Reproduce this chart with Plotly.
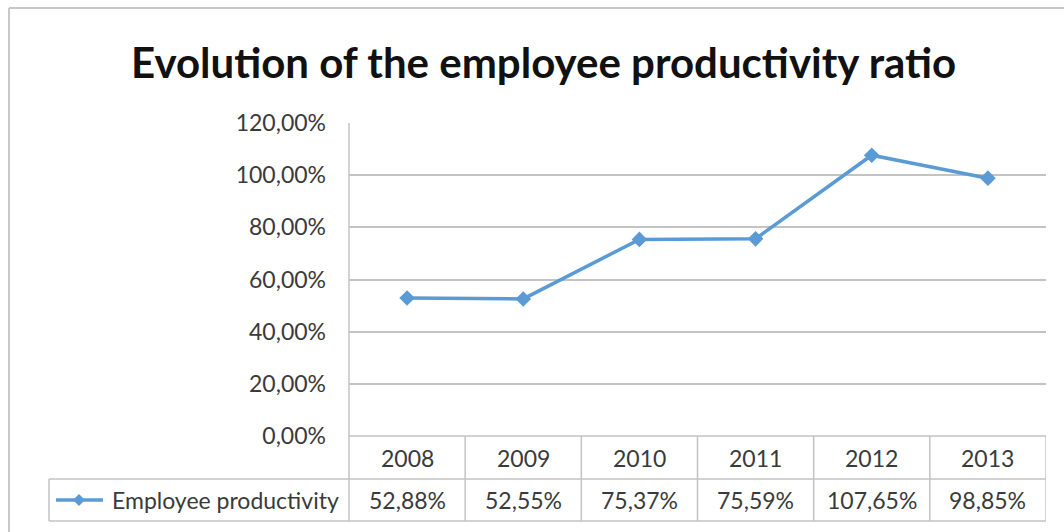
import plotly.graph_objects as go

W, H = 1064, 532

# Chart data
years = ["2008", "2009", "2010", "2011", "2012", "2013"]
productivity_pct = [52.88, 52.55, 75.37, 75.59, 107.65, 98.85]
y_ticks_pct = [0, 20, 40, 60, 80, 100, 120]
series_name = "Employee productivity"
title_text = "Evolution of the employee productivity ratio"

LINE_BLUE = "#5B9BD5"
GRID = "#C3C3C3"
TEXT = "#3A3A3A"
FONT = "Lato"
TABLE_SIZE = 23


def px(x):
    return x / W


def py(y):
    return 1 - y / H


def fmt_pct(v):
    return f"{v:.2f}".replace(".", ",") + "%"


# plot area in pixels
PL, PR, PT, PB = 349, 1046, 123, 436
ROW1, ROW2 = 479, 521   # data-table row dividers
LEG_L = 49

fig = go.Figure()
fig.add_trace(go.Scatter(
    x=list(range(len(years))),
    y=[v / 100 for v in productivity_pct],
    mode="lines+markers",
    line=dict(color=LINE_BLUE, width=3.5),
    marker=dict(symbol="diamond", size=12, color=LINE_BLUE),
    name=series_name,
    showlegend=False,
    hoverinfo="skip",
))

shapes = []
line_style = dict(color=GRID, width=1.5)
# outer chart frame (top and left edges visible)
shapes.append(dict(type="line", xref="paper", yref="paper",
                   x0=px(9), x1=px(W + 5), y0=py(8), y1=py(8),
                   line=dict(color="#C8C8C8", width=2)))
shapes.append(dict(type="line", xref="paper", yref="paper",
                   x0=px(9), x1=px(9), y0=py(8), y1=py(H + 5),
                   line=dict(color="#C8C8C8", width=2)))
# value axis line running down through the data table
shapes.append(dict(type="line", xref="paper", yref="paper",
                   x0=px(PL), x1=px(PL), y0=py(PT), y1=py(ROW2), line=line_style))
# category axis baseline / top of the data table
shapes.append(dict(type="line", xref="paper", yref="paper",
                   x0=px(PL), x1=px(PR), y0=py(PB), y1=py(PB), line=line_style))
# data-table column dividers
for i in range(len(years)):
    shapes.append(dict(type="line", xref="x", yref="paper",
                       x0=i + 0.5, x1=i + 0.5, y0=py(PB), y1=py(ROW2), line=line_style))
# data-table row lines
for yy in (ROW1, ROW2):
    shapes.append(dict(type="line", xref="paper", yref="paper",
                       x0=px(LEG_L), x1=px(PR), y0=py(yy), y1=py(yy), line=line_style))
shapes.append(dict(type="line", xref="paper", yref="paper",
                   x0=px(LEG_L), x1=px(LEG_L), y0=py(ROW1), y1=py(ROW2), line=line_style))
# legend key inside the table
ky = (ROW1 + ROW2) / 2
shapes.append(dict(type="line", xref="paper", yref="paper",
                   x0=px(56), x1=px(103), y0=py(ky), y1=py(ky),
                   line=dict(color=LINE_BLUE, width=3.5)))
cx, d = 79, 6
shapes.append(dict(type="path", xref="paper", yref="paper",
                   path=f"M {px(cx)},{py(ky - d)} L {px(cx + d)},{py(ky)} "
                        f"L {px(cx)},{py(ky + d)} L {px(cx - d)},{py(ky)} Z",
                   fillcolor=LINE_BLUE, line=dict(color=LINE_BLUE, width=0)))

annotations = []
for i, (yr, v) in enumerate(zip(years, productivity_pct)):
    annotations.append(dict(x=i, xref="x", y=py((PB + ROW1) / 2), yref="paper",
                            text=yr, showarrow=False, xanchor="center", yanchor="middle",
                            font=dict(family=FONT, size=TABLE_SIZE, color=TEXT)))
    annotations.append(dict(x=i, xref="x", y=py((ROW1 + ROW2) / 2), yref="paper",
                            text=fmt_pct(v), showarrow=False, xanchor="center", yanchor="middle",
                            font=dict(family=FONT, size=TABLE_SIZE, color=TEXT)))
annotations.append(dict(x=px(110), xref="paper", y=py(ky), yref="paper",
                        text=series_name, showarrow=False, xanchor="left", yanchor="middle",
                        font=dict(family=FONT, size=TABLE_SIZE, color=TEXT)))
annotations.append(dict(x=px(543), xref="paper", y=py(62), yref="paper",
                        text=f"<b>{title_text}</b>", showarrow=False,
                        xanchor="center", yanchor="middle",
                        font=dict(family=FONT, size=42, color="#111111")))

fig.update_layout(
    width=W, height=H, autosize=False,
    margin=dict(l=0, r=0, t=0, b=0, pad=0),
    paper_bgcolor="white", plot_bgcolor="white",
    separators=",.",
    xaxis=dict(domain=[px(PL), px(PR)], range=[-0.5, len(years) - 0.5],
               showticklabels=False, showgrid=False, zeroline=False, showline=False,
               automargin=False, fixedrange=True),
    yaxis=dict(domain=[py(PB), py(PT)], range=[0, 1.2],
               tickvals=[t / 100 for t in y_ticks_pct], tickformat=".2%",
               showgrid=True, gridcolor=GRID, gridwidth=1.5,
               zeroline=False, showline=False, ticks="",
               ticklabelstandoff=22, automargin=False,
               tickfont=dict(family=FONT, size=TABLE_SIZE, color=TEXT), fixedrange=True),
    shapes=shapes,
    annotations=annotations,
)

fig.write_html("out.html")
